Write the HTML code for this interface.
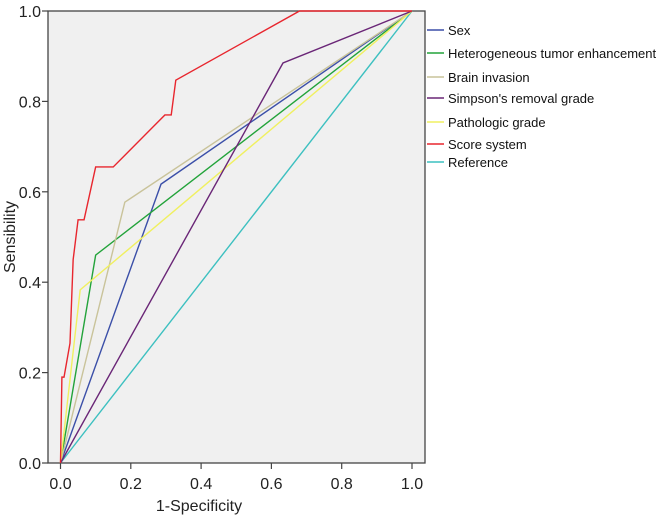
<!DOCTYPE html>
<html><head><meta charset="utf-8"><style>
body{margin:0;background:#fff;}
svg{display:block;font-family:"Liberation Sans",sans-serif;}
</style></head><body>
<svg id="chart" width="656" height="522" viewBox="0 0 656 522"></svg>
<script>
const xTicks=[0,0.2,0.4,0.6,0.8,1.0];
const yTicks=[0,0.2,0.4,0.6,0.8,1.0];
const tickLabels=["0.0","0.2","0.4","0.6","0.8","1.0"];
const seriesNames=["Sex","Heterogeneous tumor enhancement","Brain invasion","Simpson's removal grade","Pathologic grade","Score system","Reference"];
const seriesColors=["#3b4fa8","#22a33a","#c9c39a","#6a2677","#f0f060","#e8262e","#3cc0c0"];
const sexX=[0,0.286,1], sexY=[0,0.617,1];
const hetX=[0,0.1,1], hetY=[0,0.46,1];
const brainX=[0,0.183,1], brainY=[0,0.577,1];
const simpX=[0,0.633,1], simpY=[0,0.885,1];
const pathX=[0,0.056,1], pathY=[0,0.383,1];
const scoreX=[0,0.004,0.01,0.027,0.036,0.05,0.067,0.1,0.15,0.297,0.315,0.328,0.68,1];
const scoreY=[0,0.19,0.19,0.265,0.45,0.538,0.538,0.655,0.655,0.77,0.77,0.847,1,1];
const refX=[0,1], refY=[0,1];
const seriesX=[sexX,hetX,brainX,simpX,pathX,scoreX,refX];
const seriesY=[sexY,hetY,brainY,simpY,pathY,scoreY,refY];

const NS="http://www.w3.org/2000/svg";
const svg=document.getElementById('chart');
const X=v=>60.5+v*351.5, Y=v=>463-v*452;
function mk(t,a,p){const e=document.createElementNS(NS,t);for(const k in a)e.setAttribute(k,a[k]);(p||svg).appendChild(e);return e;}
const frame=mk('rect',{x:48,y:11,width:377,height:452,fill:'#f0f0f0',stroke:'#444','stroke-width':1.3});


xTicks.forEach((v,i)=>{
  const l=mk('line',{x1:X(v),x2:X(v),y1:463,y2:469,stroke:'#444','stroke-width':1.2});
  
  
  const t=mk('text',{x:X(v),y:489,'font-size':16,'text-anchor':'middle',fill:'#222'});
  t.textContent=tickLabels[i];
  
  
});
yTicks.forEach((v,i)=>{
  const l=mk('line',{x1:42,x2:48,y1:Y(v),y2:Y(v),stroke:'#444','stroke-width':1.2});
  
  
  const t=mk('text',{x:41,y:Y(v)+6,'font-size':16,'text-anchor':'end',fill:'#222'});
  t.textContent=tickLabels[i];
  
  
});
const xt=mk('text',{x:199,y:511,'font-size':16,'text-anchor':'middle',fill:'#222'});
xt.textContent='1-Specificity';


const yt=mk('text',{x:0,y:0,'font-size':16,'text-anchor':'middle',fill:'#222',transform:'translate(15,237) rotate(-90)'});
yt.textContent='Sensibility';


const order=[6,0,1,2,4,3,5];
order.forEach(i=>{
  const pts=seriesX[i].map((x,j)=>X(x)+','+Y(seriesY[i][j])).join(' ');
  const p=mk('polyline',{points:pts,fill:'none',stroke:seriesColors[i],'stroke-width':1.4});
  
  
});
const legendY=[30,53,77,98,122,144,162];
seriesNames.forEach((n,i)=>{
  const g=mk('g',{});
  
  
  mk('line',{x1:427,x2:444,y1:legendY[i],y2:legendY[i],stroke:seriesColors[i],'stroke-width':1.5},g);
  const t=mk('text',{x:448,y:legendY[i]+5,'font-size':13,fill:'#111'},g);
  t.textContent=n;
});
</script>
</body></html>
